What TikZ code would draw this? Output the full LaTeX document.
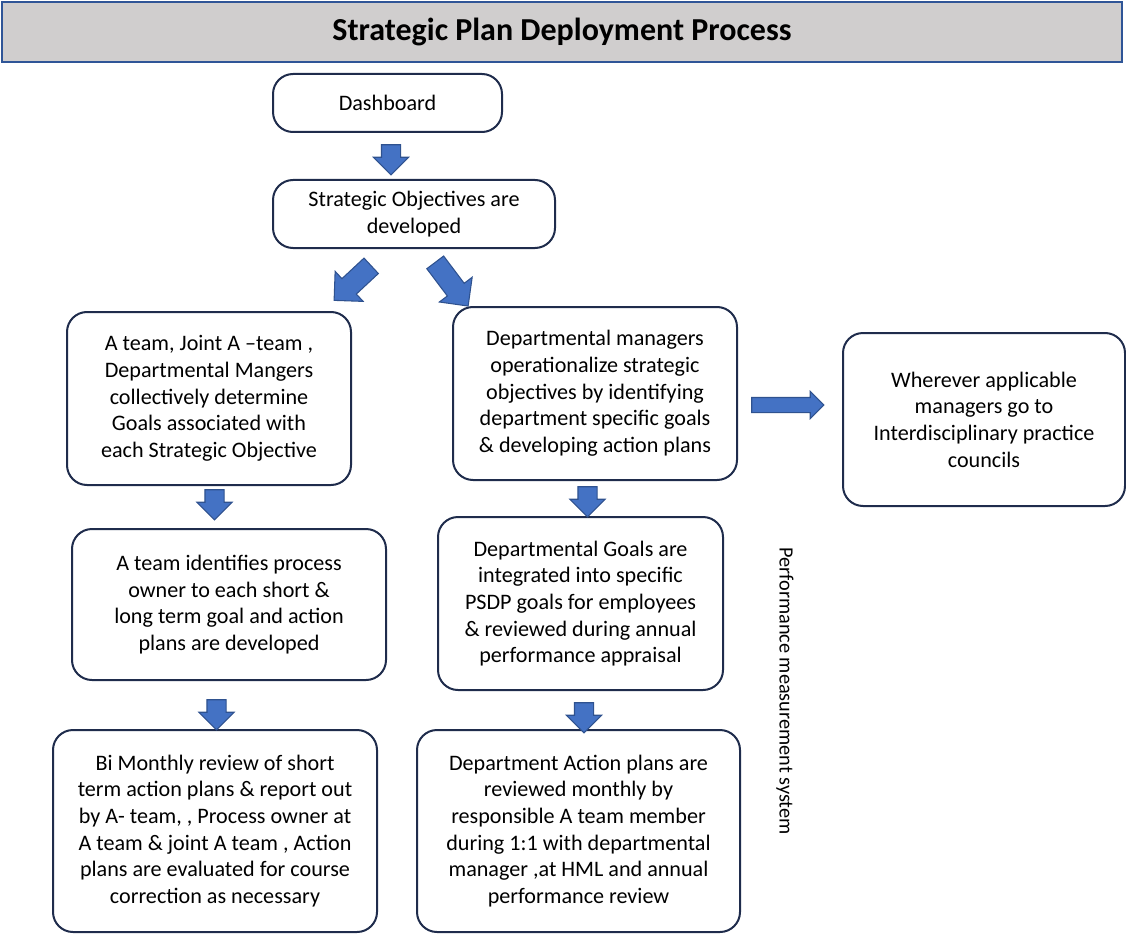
\documentclass[tikz,border=0pt]{standalone}
\usepackage{fontspec}
\setmainfont{Carlito}
\usetikzlibrary{shapes.arrows}
\definecolor{boxline}{HTML}{1F2C4C}
\definecolor{titleline}{HTML}{2F5597}
\definecolor{titlefill}{HTML}{D0CECE}
\definecolor{arrfill}{HTML}{4472C4}
\definecolor{arrline}{HTML}{2F528F}
\tikzset{
  box/.style={draw=boxline, line width=1.5pt, rounded corners=15pt, fill=white, align=center,
    font=\fontsize{16.6}{20}\selectfont, inner sep=4pt},
  blockarr/.style={single arrow, draw=arrline, fill=arrfill, line width=0.8pt, inner xsep=0pt,
    inner ysep=6.75pt, single arrow head extend=6pt, minimum height=22.5pt},
  diagarr/.style={blockarr, inner ysep=7.5pt, single arrow head extend=7.5pt},
  rightarr/.style={blockarr, inner ysep=5.25pt, single arrow head extend=4.5pt, minimum height=54pt},
}
\begin{document}
\begin{tikzpicture}[x=0.75pt,y=-0.75pt]
\useasboundingbox (0,0) rectangle (1126,934);
\node[draw=titleline, line width=1.8pt, fill=titlefill, minimum width=840pt, minimum height=45pt,
  font=\fontsize{24}{28}\selectfont\bfseries] (title) at (562,32) {Strategic Plan Deployment Process};
\node[box, minimum width=171.75pt, minimum height=43.5pt] (dash) at (387.5,103) {Dashboard};
\node[box, minimum width=211.5pt, minimum height=51pt] (so) at (414,214) {Strategic Objectives are\\developed};
\node[box, minimum width=213pt, minimum height=129.75pt] (l1) at (209,398.5) {A team, Joint A –team ,\\Departmental Mangers\\collectively determine\\Goals associated with\\each Strategic Objective};
\node[box, minimum width=213pt, minimum height=129.75pt] (m1) at (595,393.5) {Departmental managers\\operationalize strategic\\objectives by identifying\\department specific goals\\\& developing action plans};
\node[box, minimum width=211.5pt, minimum height=129.75pt] (r1) at (984,419.5) {Wherever applicable\\managers go to\\Interdisciplinary practice\\councils};
\node[box, minimum width=235.5pt, minimum height=113.25pt] (l2) at (229,604.5) {A team identifies process\\owner to each short \&\\long term goal and action\\plans are developed};
\node[box, minimum width=213.75pt, minimum height=129.75pt] (m2) at (580.5,603.5) {Departmental Goals are\\integrated into specific\\PSDP goals for employees\\\& reviewed during annual\\performance appraisal};
\node[box, minimum width=243pt, minimum height=151.5pt] (l3) at (215,831) {Bi Monthly review of short\\term action plans \& report out\\by A- team, , Process owner at\\A team \& joint A team , Action\\plans are evaluated for course\\correction as necessary};
\node[box, minimum width=242.25pt, minimum height=151.5pt] (m3) at (578.5,831) {Department Action plans are\\reviewed monthly by\\responsible A team member\\during 1:1 with departmental\\manager ,at HML and annual\\performance review};
\node[rotate=-90, font=\fontsize{15.2}{18}\selectfont] (pms) at (785,691) {Performance measurement system};
\node[blockarr, rotate=-90] (a1) at (391,155) {};
\node[diagarr, rotate=-137, minimum height=38pt] (a2) at (356.5,279.5) {};
\node[diagarr, rotate=-53, minimum height=41pt] (a3) at (448.5,280) {};
\node[blockarr, rotate=-90] (a4) at (214.5,500) {};
\node[blockarr, rotate=-90] (a5) at (587.5,497) {};
\node[blockarr, rotate=-90] (a6) at (216.5,710) {};
\node[blockarr, rotate=-90] (a7) at (584,713) {};
\node[rightarr] (a8) at (784,405) {};
\end{tikzpicture}
\end{document}
